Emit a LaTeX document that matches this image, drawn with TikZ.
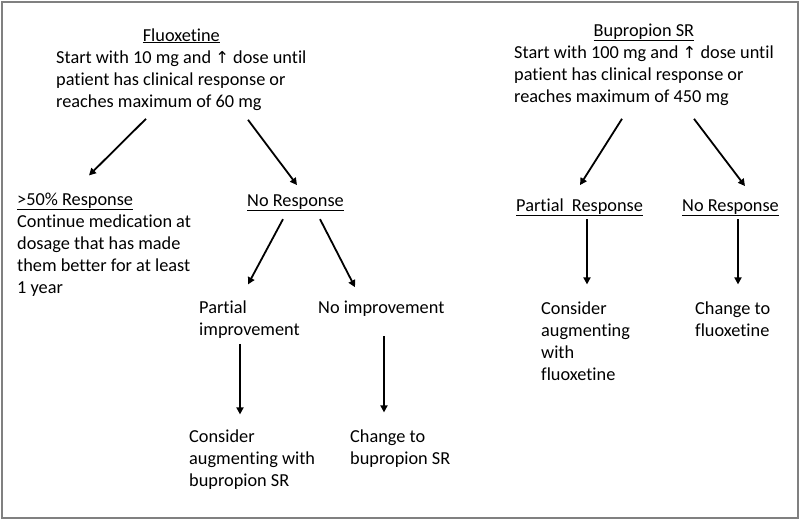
\documentclass[tikz,border=0pt]{standalone}
\usepackage{fontspec}
\setmainfont{Carlito}[Ligatures=NoCommon]
\newfontfamily\symfont{DejaVu Sans}
\usetikzlibrary{arrows.meta,calc}
\newcommand{\blk}[1]{\begin{tabular}[t]{@{}l@{}}#1\end{tabular}}
\newcommand{\ttl}[1]{\multicolumn{1}{@{}c@{}}{\underline{#1}}}
\newcommand{\uparr}{{\symfont\scalebox{0.9}{↑}}}
\begin{document}
\begin{tikzpicture}[x=1pt,y=-1pt,
  txt/.style={inner sep=0pt, anchor=base west, font=\fontsize{18.3pt}{22pt}\selectfont},
  arr/.style={line width=1.8pt, -{Triangle[length=7pt,width=7pt]}}]
\useasboundingbox (0,0) rectangle (800,520);
\draw[gray, line width=1.5pt] (2,2) rectangle (798,518);

% left tree
\node[txt] (F) at (56,41) {\blk{\ttl{Fluoxetine}\\ Start with 10 mg and \uparr{} dose until\\ patient has clinical response or\\ reaches maximum of 60 mg}};
\node[txt] (R50) at (17,205) {\blk{\underline{>50\% Response}\\ Continue medication at\\ dosage that has made\\ them better for at least\\ 1 year}};
\node[txt] (NR) at (247,206) {\underline{No Response}};
\node[txt] (PI) at (199,313) {\blk{Partial\\ improvement}};
\node[txt] (NI) at (318,313) {No improvement};
\node[txt] (CA) at (189,442) {\blk{Consider\\ augmenting with\\ bupropion SR}};
\node[txt] (CB) at (350,442) {\blk{Change to\\ bupropion SR}};

\draw[arr] ($(F.south west)+(90,5)$) -- ($(R50.north west)+(72,-14)$);
\draw[arr] ($(F.south west)+(192,6)$) -- ($(NR.north west)+(50,-9)$);
\draw[arr] ($(NR.south west)+(36,8)$) -- ($(PI.north west)+(49,-13)$);
\draw[arr] ($(NR.south west)+(73,8)$) -- ($(NI.north west)+(37,-13)$);
\draw[arr] ($(PI.south west)+(41,2)$) -- ($(CA.north west)+(51,-12)$);
\draw[arr] ($(NI.south west)+(66,20)$) -- ($(CB.north west)+(34,-14)$);

% right tree
\node[txt] (B) at (514,36) {\blk{\ttl{Bupropion SR}\\ Start with 100 mg and \uparr{} dose until\\ patient has clinical response or\\ reaches maximum of 450 mg}};
\node[txt] (PR) at (516,211) {\underline{Partial\ \ Response}};
\node[txt] (NR2) at (682,211) {\underline{No Response}};
\node[txt] (CF) at (541,314) {\blk{Consider\\ augmenting\\ with\\ fluoxetine}};
\node[txt] (CH) at (695,314) {\blk{Change to\\ fluoxetine}};

\draw[arr] ($(B.south west)+(108,10)$) -- ($(PR.north west)+(64,-13)$);
\draw[arr] ($(B.south west)+(180,10)$) -- ($(NR2.north west)+(63,-13)$);
\draw[arr] ($(PR.south west)+(71,3)$) -- ($(CF.north west)+(46,-14)$);
\draw[arr] ($(NR2.south west)+(56,3)$) -- ($(CH.north west)+(43,-14)$);
\end{tikzpicture}
\end{document}
